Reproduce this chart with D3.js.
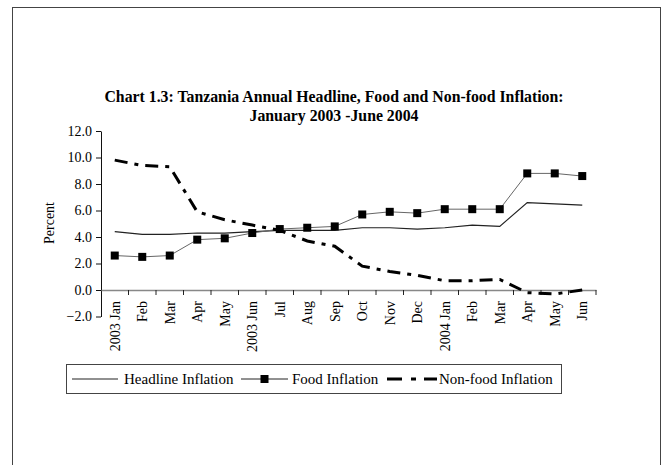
<!DOCTYPE html>
<html>
<head>
<meta charset="utf-8">
<script src="https://cdn.jsdelivr.net/npm/d3@7"></script>
<style>
  body { margin: 0; background: #fff; }
  svg { display: block; font-family: "Liberation Serif", "Times New Roman", serif; }
</style>
</head>
<body>
<svg id="chart" width="669" height="465"></svg>
<script>
const months = ["2003 Jan", "Feb", "Mar", "Apr", "May", "2003 Jun", "Jul", "Aug", "Sep",
  "Oct", "Nov", "Dec", "2004 Jan", "Feb", "Mar", "Apr", "May", "Jun"];

const headline = [4.4, 4.2, 4.2, 4.3, 4.3, 4.4, 4.5, 4.5, 4.5, 4.7, 4.7, 4.6, 4.7, 4.9, 4.8, 6.6, 6.5, 6.4];
const food = [2.6, 2.5, 2.6, 3.8, 3.9, 4.3, 4.6, 4.7, 4.8, 5.7, 5.9, 5.8, 6.1, 6.1, 6.1, 8.8, 8.8, 8.6];
const nonfood = [9.8, 9.4, 9.3, 5.9, 5.3, 4.9, 4.5, 3.7, 3.3, 1.8, 1.4, 1.1, 0.7, 0.7, 0.8, -0.2, -0.3, 0.0];

const yTicks = [-2, 0, 2, 4, 6, 8, 10, 12];

const svg = d3.select("#chart");

// outer frame
svg.append("rect")
  .attr("x", 12.5).attr("y", 7.5)
  .attr("width", 648).attr("height", 470)
  .attr("fill", "none").attr("stroke", "#444").attr("stroke-width", 1);

// title
const title = svg.append("text")
  .attr("text-anchor", "middle")
  .attr("font-weight", "bold")
  .attr("font-size", 15.8);
title.append("tspan").attr("x", 334).attr("y", 102)
  .text("Chart 1.3: Tanzania Annual Headline, Food and Non-food Inflation:");
title.append("tspan").attr("x", 334).attr("y", 121)
  .text("January 2003 -June 2004");

const x = d3.scaleBand().domain(months.map((m, i) => i)).range([101, 596]);
const y = d3.scaleLinear().domain([-2, 12]).range([316.5, 131]);

// y axis
const yAxis = svg.append("g")
  .attr("transform", "translate(101,0)")
  .call(d3.axisLeft(y).tickValues(yTicks).tickSize(5).tickSizeOuter(0).tickFormat(d3.format(".1f")));
yAxis.select(".domain").attr("stroke", "#111");
yAxis.selectAll(".tick line").attr("stroke", "#111");
yAxis.selectAll(".tick text")
  .attr("font-family", "Liberation Serif, serif")
  .attr("font-size", 14).attr("fill", "#000").attr("x", -9);

// x axis at zero
const xAxis = svg.append("g")
  .attr("transform", `translate(0,${y(0)})`)
  .call(d3.axisBottom(x).tickSize(0).tickFormat(i => months[i]));
xAxis.select(".domain").attr("stroke", "#888").attr("stroke-width", 1.5);
xAxis.selectAll(".tick text")
  .attr("font-family", "Liberation Serif, serif")
  .attr("font-size", 14).attr("fill", "#000")
  .attr("text-anchor", "end")
  .attr("transform", "rotate(-90)")
  .attr("x", -11).attr("y", 0).attr("dy", "0.35em");

// boundary ticks between categories
xAxis.selectAll(".bound")
  .data(d3.range(months.length + 1).slice(1))
  .enter().append("line")
  .attr("class", "bound")
  .attr("x1", i => x.range()[0] + i * x.step())
  .attr("x2", i => x.range()[0] + i * x.step())
  .attr("y1", 0).attr("y2", 5)
  .attr("stroke", "#222");

svg.append("text")
  .attr("transform", "translate(54,223) rotate(-90)")
  .attr("text-anchor", "middle")
  .attr("font-size", 14)
  .text("Percent");

const cx = i => x(i) + x.bandwidth() / 2;
const line = d3.line().x((d, i) => cx(i)).y(d => y(d));

svg.append("path").datum(headline)
  .attr("d", line).attr("fill", "none")
  .attr("stroke", "#222").attr("stroke-width", 1.2);

svg.append("path").datum(food)
  .attr("d", line).attr("fill", "none")
  .attr("stroke", "#666").attr("stroke-width", 1);

svg.selectAll(".fm").data(food).enter().append("rect")
  .attr("class", "fm")
  .attr("x", (d, i) => cx(i) - 4).attr("y", d => y(d) - 4)
  .attr("width", 8).attr("height", 8).attr("fill", "#000");

svg.append("path").datum(nonfood)
  .attr("d", line).attr("fill", "none")
  .attr("stroke", "#000").attr("stroke-width", 3)
  .attr("stroke-dasharray", "13,7,4,7");

// legend
const lg = svg.append("g");
lg.append("rect")
  .attr("x", 66.5).attr("y", 364.5).attr("width", 495).attr("height", 29)
  .attr("fill", "#fff").attr("stroke", "#444").attr("stroke-width", 1);

const legendItems = [
  { name: "Headline Inflation", x0: 72, x1: 118, tx: 124 },
  { name: "Food Inflation", x0: 241, x1: 288, tx: 292 },
  { name: "Non-food Inflation", x0: 387, x1: 437, tx: 439 }
];
const ly = 379;
lg.append("line").attr("x1", legendItems[0].x0).attr("x2", legendItems[0].x1)
  .attr("y1", ly).attr("y2", ly).attr("stroke", "#222").attr("stroke-width", 1.2);
lg.append("line").attr("x1", legendItems[1].x0).attr("x2", legendItems[1].x1)
  .attr("y1", ly).attr("y2", ly).attr("stroke", "#222").attr("stroke-width", 1);
lg.append("rect").attr("x", (legendItems[1].x0 + legendItems[1].x1) / 2 - 4).attr("y", ly - 4)
  .attr("width", 8).attr("height", 8).attr("fill", "#000");
lg.append("line").attr("x1", legendItems[2].x0).attr("x2", legendItems[2].x1)
  .attr("y1", ly).attr("y2", ly).attr("stroke", "#000").attr("stroke-width", 3)
  .attr("stroke-dasharray", "15,9,5,8,15");
lg.selectAll(".lt").data(legendItems).enter().append("text")
  .attr("class", "lt")
  .attr("x", d => d.tx).attr("y", ly).attr("dy", "0.35em")
  .attr("font-size", 15)
  .text(d => d.name);
</script>
</body>
</html>
